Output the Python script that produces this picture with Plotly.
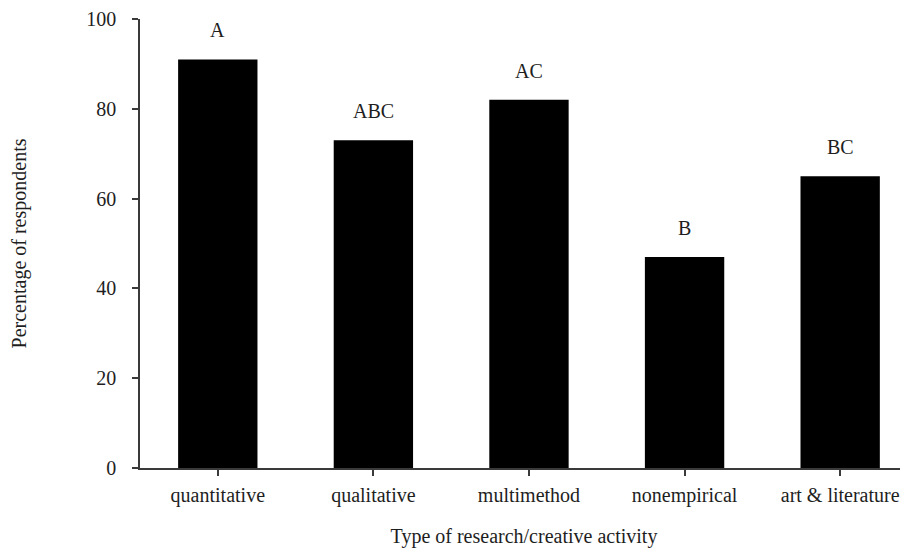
import plotly.graph_objects as go

categories = ["quantitative", "qualitative", "multimethod", "nonempirical", "art & literature"]
percentages = [91, 73, 82, 47, 65]
group_labels = ["A", "ABC", "AC", "B", "BC"]
y_ticks = [0, 20, 40, 60, 80, 100]

FONT = "Liberation Serif, Times New Roman, serif"
AXIS_COLOR = "#3a3a3a"
TXT = "#1e1e1e"
FS = 20

fig = go.Figure()
fig.add_trace(go.Bar(
    x=categories,
    y=percentages,
    width=0.51,
    marker=dict(color="black", line=dict(width=0)),
    hoverinfo="x+y",
))

for cat, val, lab in zip(categories, percentages, group_labels):
    fig.add_annotation(
        x=cat, y=val, text=lab, showarrow=False,
        yanchor="middle", yshift=29,
        font=dict(family=FONT, size=FS, color=TXT),
    )

fig.update_layout(
    width=900, height=540,
    margin=dict(l=132, r=0, t=11, b=80),
    paper_bgcolor="white", plot_bgcolor="white",
    showlegend=False,
    font=dict(family=FONT, size=FS, color=TXT),
)
fig.update_xaxes(
    type="category",
    range=[-0.5, 4.436],
    showline=True, linecolor=AXIS_COLOR, linewidth=1.5,
    ticks="outside", ticklen=6, tickcolor=AXIS_COLOR, tickwidth=1.5,
    showgrid=False, zeroline=False,
    tickfont=dict(family=FONT, size=FS, color=TXT),
    ticklabelstandoff=2,
    title=dict(text="Type of research/creative activity", standoff=26,
               font=dict(family=FONT, size=FS, color=TXT)),
    automargin=False,
)
fig.update_yaxes(
    range=[0, 100],
    tickvals=y_ticks,
    showline=True, linecolor=AXIS_COLOR, linewidth=1.5,
    ticks="outside", ticklen=6, tickcolor=AXIS_COLOR, tickwidth=1.5,
    showgrid=False, zeroline=False,
    tickfont=dict(family=FONT, size=FS, color=TXT),
    ticklabelstandoff=12,
    title=dict(text="Percentage of respondents", standoff=62,
               font=dict(family=FONT, size=FS, color=TXT)),
    automargin=False,
)

fig.write_html("out.html")
